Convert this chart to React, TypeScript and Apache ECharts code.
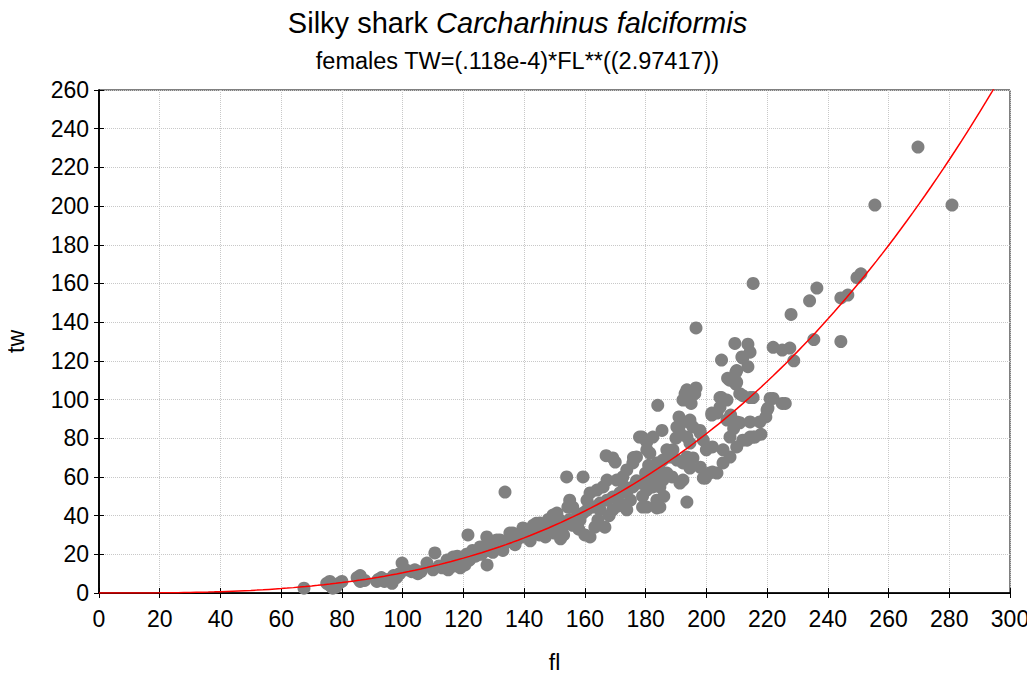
import React, { useEffect, useRef } from "react";
import * as echarts from "echarts";

// Fitted length–weight relation for females: TW = a * FL^b
const fitA = 0.118e-4;
const fitB = 2.97417;

// Observations: [fork length fl (cm), total weight tw (kg)]
const smallFish: number[][] = [
  [67.5, 2.5], [75, 5], [76, 4], [76, 6], [77, 2.5], [77, 4], [79, 5], [80, 6], [78, 3],
  [85, 8], [86, 6], [87.5, 6.5], [86, 9], [91.5, 6], [93, 8], [93.5, 6.7], [95, 7], [96.5, 5],
  [94, 6], [92, 7], [97, 9], [98, 8], [99, 10], [99.8, 15.5], [101, 12], [103, 11], [105, 10],
  [104, 12], [106, 11], [108, 15.5], [110, 12], [110.6, 20.7], [112, 14], [113, 13], [114.6, 17],
  [115, 12], [116.6, 18.6], [117, 14], [118, 19], [119, 17], [119, 13],
];

const midFish: number[][] = [
  [120.5, 14.5], [121, 20], [121.5, 30], [122, 17], [123, 22], [124, 19], [125.5, 23.8], [126, 20],
  [126.4, 23.8], [127.7, 29], [127.8, 14.5], [128, 22], [129.7, 21], [129.7, 25.8], [131, 27.4],
  [132, 27.4], [132, 24], [133, 22], [133.7, 52.2], [134, 26], [135.3, 31], [135.3, 27.4],
  [136.3, 31], [137, 25], [138, 28], [139.6, 33.6], [139.6, 32.6], [140, 29], [141, 31], [142, 27],
  [142.9, 32.6], [143, 35], [144, 36], [145, 30], [145.2, 36.2], [146, 33], [147, 29], [148, 38],
  [148.5, 34.1], [149.5, 40.3], [149.5, 37.7], [150, 31], [150.8, 41.3], [150.8, 32.6],
  [151.8, 37.7], [152, 28], [152.8, 34.1], [153, 30], [154, 60], [154.4, 44.4], [155, 48],
  [155, 38], [156, 44.4], [156, 35], [157.4, 39.3], [158, 33], [158.4, 37.7], [159.4, 60],
  [159.4, 41.3], [160, 30], [160.7, 48], [160.7, 42.9], [161.7, 29], [161.7, 51.7],
];

const largeFish: number[][] = [
  [162.7, 44.4], [163.3, 34], [164, 53.2], [164.3, 37.7], [165, 46.5], [165, 43], [166, 54.8],
  [166.6, 34], [167, 71], [167.3, 58.4], [167.3, 48], [168, 40], [169.2, 69.8], [169.2, 49.6],
  [169.2, 43], [170, 67.7], [170.5, 58.4], [171, 45], [171.5, 51.7], [171.5, 46.5], [172.5, 60],
  [173, 55], [173.8, 63.6], [173.8, 52.2], [173.8, 43], [175, 48], [175.8, 67.2], [175.8, 54.8],
  [176, 70], [177, 70.3], [177, 58], [178, 56.8], [178, 80.6], [178.8, 80.6], [179, 56.8],
  [179, 44.4], [179, 50], [180, 62], [180.4, 74], [180.4, 78], [180.4, 58.4], [180.4, 53.2],
  [180.4, 44.4], [181.4, 72.3], [181, 66], [182.4, 80.6], [182.4, 65], [182.4, 60], [182.4, 54.8],
  [183.7, 67.2], [183.7, 48], [183.7, 44], [184, 97], [184.7, 63.6], [184.7, 54.8], [184.7, 44.4],
  [185.4, 84], [185.7, 68.7], [185.7, 58.4], [186, 50], [187, 74], [187, 62], [188, 70.3],
  [188.7, 60], [189, 74], [190, 80], [190.3, 85.8], [190.3, 68.7], [191, 91], [191.3, 82.7],
  [191.3, 56.8], [191.3, 86.8], [192.3, 99.7], [192.3, 67.2], [192.3, 58.4], [193, 103],
  [193.6, 105], [193.6, 80.6], [193.6, 70.3], [193.6, 47], [194.6, 88], [194.6, 89.4],
  [194.6, 77.5], [194.6, 64.6], [195, 98], [195.6, 85.8], [195.6, 69.8], [196.2, 103],
  [196.6, 106], [196.6, 137], [197.9, 84], [198, 82.7], [198, 65], [199, 79], [199, 59.4],
  [199.7, 59.4],
];

const hugeFish: number[][] = [
  [200, 74], [201, 62], [201.8, 92], [201.8, 93], [202, 75.5], [202, 62.5], [203.5, 93],
  [203.5, 62], [204.5, 101], [204.5, 96], [205, 101], [205, 120.4], [205.5, 74], [205.5, 67.2],
  [206.8, 99.7], [206.8, 89.4], [207, 111], [207.7, 110], [207.8, 80.6], [207.8, 70.3], [208, 92],
  [209, 85], [209.4, 129], [209.7, 114], [209.7, 108], [210, 109], [210, 88.4], [210, 75.5],
  [210, 115], [211, 103], [211, 88], [211.7, 122], [212, 102], [212, 79], [212, 121.4],
  [213.4, 79], [213.7, 117], [213.7, 128.6], [214.4, 124.5], [214.4, 101], [214.4, 88.4],
  [214.4, 80.6], [215.4, 160], [215.4, 101], [215.4, 80.6], [216, 80.6], [217.6, 88.4], [218, 82],
  [219.6, 91], [220, 94.6], [220.3, 95.6], [221, 100.6], [222, 127], [222, 100.6], [225, 98],
  [225, 125.6], [226, 98], [227.5, 126.6], [227.9, 144], [228.8, 120], [234, 151], [235.4, 131],
  [236.4, 157.6], [244.3, 152.5], [244.3, 130], [246.6, 154], [249.6, 163], [250.9, 165],
  [255.5, 200.5], [269.7, 230.5], [280.9, 200.5],
];

// Sample positions for the fitted curve
const fitFL: number[] = [];
for (let fl = 0; fl <= 300; fl += 2) fitFL.push(fl);

const FONT = "'Liberation Sans', Arial, sans-serif";

export default function App() {
  const ref = useRef<HTMLDivElement>(null);

  useEffect(() => {
    if (!ref.current) return;
    const chart = echarts.init(ref.current, undefined, { renderer: "svg" });

    const points = [...smallFish, ...midFish, ...largeFish, ...hugeFish];
    const fitLine = fitFL.map((fl) => [fl, fitA * Math.pow(fl, fitB)]);

    const tickLabel = { color: "#000", fontSize: 23, fontFamily: FONT };
    const tick = { show: true, inside: true, length: 5, lineStyle: { color: "#000" } };
    const gridLine = { show: true, lineStyle: { color: "#c8c8c8", type: "dotted", width: 1 } };

    chart.setOption({
      animation: false,
      backgroundColor: "#fff",
      textStyle: { fontFamily: FONT },
      title: [
        {
          text: "{n|Silky shark }{i|Carcharhinus falciformis}",
          left: "center",
          top: 3,
          textStyle: {
            fontWeight: "normal",
            rich: {
              n: { fontSize: 29, fontFamily: FONT, color: "#000", fontWeight: "normal" },
              i: { fontSize: 29, fontFamily: FONT, color: "#000", fontStyle: "italic", fontWeight: "normal" },
            },
          },
        },
        {
          text: "females TW=(.118e-4)*FL**((2.97417))",
          left: "center",
          top: 44,
          textStyle: { fontSize: 23.5, fontFamily: FONT, color: "#000", fontWeight: "normal" },
        },
      ],
      grid: {
        left: 99,
        right: 25,
        top: 90,
        bottom: 85,
        show: true,
        borderColor: "#000",
        borderWidth: 1,
        outerBoundsMode: "none",
        containLabel: false,
      },
      xAxis: [
        {
          type: "value",
          min: 0,
          max: 300,
          interval: 20,
          name: "fl",
          nameLocation: "middle",
          nameGap: 58,
          nameTextStyle: { color: "#000", fontSize: 23, fontFamily: FONT },
          axisLine: { show: true, onZero: false, lineStyle: { color: "#000", width: 1.5 } },
          axisTick: tick,
          axisLabel: { ...tickLabel, margin: 14 },
          splitLine: gridLine,
        },
        {
          type: "value",
          position: "top",
          min: 0,
          max: 300,
          interval: 20,
          axisLine: { show: true, lineStyle: { color: "#000" } },
          axisTick: tick,
          axisLabel: { show: false },
          splitLine: { show: false },
        },
      ],
      yAxis: [
        {
          type: "value",
          min: 0,
          max: 260,
          interval: 20,
          name: "tw",
          nameLocation: "middle",
          nameGap: 72,
          nameTextStyle: { color: "#000", fontSize: 23, fontFamily: FONT },
          axisLine: { show: true, onZero: false, lineStyle: { color: "#000", width: 1.5 } },
          axisTick: tick,
          axisLabel: { ...tickLabel, margin: 10 },
          splitLine: gridLine,
        },
        {
          type: "value",
          position: "right",
          min: 0,
          max: 260,
          interval: 20,
          axisLine: { show: true, lineStyle: { color: "#000", width: 1.5 } },
          axisTick: tick,
          axisLabel: { show: false },
          splitLine: { show: false },
        },
      ],
      series: [
        {
          type: "scatter",
          data: points,
          symbol: "circle",
          symbolSize: 13,
          itemStyle: { color: "#808080", opacity: 1 },
          z: 2,
        },
        {
          type: "line",
          data: fitLine,
          showSymbol: false,
          clip: true,
          lineStyle: { color: "#ff0000", width: 1.5 },
          z: 3,
        },
      ],
    });

    return () => chart.dispose();
  }, []);

  return <div ref={ref} style={{ width: 1035, height: 678, margin: -8 }} />;
}
